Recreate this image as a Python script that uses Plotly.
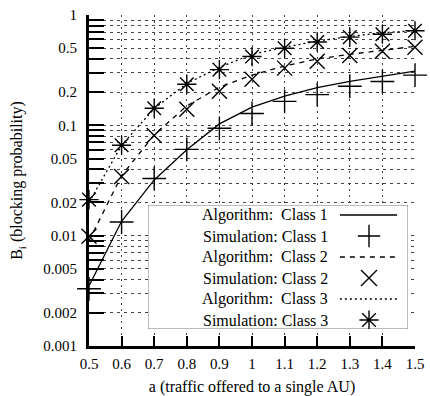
import plotly.graph_objects as go

# Offered traffic per AU
a = [0.5, 0.6, 0.7, 0.8, 0.9, 1.0, 1.1, 1.2, 1.3, 1.4, 1.5]

# Blocking probability: analytical algorithm
alg_c1 = [0.0035, 0.0135, 0.032, 0.06, 0.103, 0.146, 0.184, 0.22, 0.25, 0.28, 0.31]
alg_c2 = [0.009, 0.035, 0.082, 0.15, 0.222, 0.285, 0.345, 0.40, 0.44, 0.48, 0.52]
alg_c3 = [0.02, 0.066, 0.142, 0.24, 0.335, 0.44, 0.51, 0.58, 0.64, 0.69, 0.72]

# Blocking probability: simulation
sim_c1 = [0.0033, 0.0133, 0.033, 0.0605, 0.094, 0.128, 0.165, 0.19, 0.226, 0.25, 0.285]
sim_c2 = [0.0099, 0.0344, 0.081, 0.14, 0.204, 0.262, 0.33, 0.38, 0.43, 0.47, 0.51]
sim_c3 = [0.0212, 0.066, 0.143, 0.236, 0.32, 0.42, 0.50, 0.57, 0.63, 0.67, 0.72]

x_ticks = [0.5, 0.6, 0.7, 0.8, 0.9, 1.0, 1.1, 1.2, 1.3, 1.4, 1.5]
x_labels = ["0.5", "0.6", "0.7", "0.8", "0.9", "1", "1.1", "1.2", "1.3", "1.4", "1.5"]

labelled = {1: "", 2: "", 5: ""}
y_ticks, y_labels = [], []
for exp in (-3, -2, -1):
    for m in range(1, 10):
        v = m * 10 ** exp
        y_ticks.append(v)
        y_labels.append(f"{v:g}" if m in labelled else "")
y_ticks.append(1)
y_labels.append("1")

legend_rows = [
    ("Algorithm:  Class 1", "line", "solid", None),
    ("Simulation: Class 1", "marker", None, "cross-thin-open"),
    ("Algorithm:  Class 2", "line", "5px,5px", None),
    ("Simulation: Class 2", "marker", None, "x-thin-open"),
    ("Algorithm:  Class 3", "line", "2px,3px", None),
    ("Simulation: Class 3", "marker", None, "asterisk-open"),
]

FONT = "Liberation Serif, Times New Roman, serif"
INK = "black"

fig = go.Figure()

line_specs = [(alg_c1, "solid"), (alg_c2, "5px,5px"), (alg_c3, "2px,3px")]
for vals, dash in line_specs:
    fig.add_trace(go.Scatter(x=a, y=vals, mode="lines",
                             line=dict(color=INK, width=1.3, dash=dash),
                             showlegend=False, cliponaxis=False))

marker_specs = [(sim_c1, "cross-thin-open", 17), (sim_c2, "x-thin-open", 15),
                (sim_c3, "asterisk-open", 16)]
for vals, sym, size in marker_specs:
    fig.add_trace(go.Scatter(x=a, y=vals, mode="markers",
                             marker=dict(symbol=sym, size=size, color=INK,
                                         line=dict(color=INK, width=1.4)),
                             showlegend=False, cliponaxis=False))

# Key box drawn on its own small subplot
row_top, row_step = 1 - 10 / 124, 21 / 124
fig.add_trace(go.Scatter(x=[0, 1, 1, 0, 0], y=[0, 0, 1, 1, 0], mode="lines",
                         fill="toself", fillcolor="white",
                         line=dict(color="#777", width=1),
                         xaxis="x2", yaxis="y2", showlegend=False, hoverinfo="skip"))
annotations = []
for i, (txt, kind, dash, sym) in enumerate(legend_rows):
    yy = row_top - i * row_step
    annotations.append(dict(x=0.70, y=yy, xref="x2", yref="y2", text=txt,
                            showarrow=False, xanchor="right", yanchor="middle",
                            font=dict(family=FONT, size=16, color=INK)))
    if kind == "line":
        fig.add_trace(go.Scatter(x=[0.738, 0.958], y=[yy, yy], mode="lines",
                                 line=dict(color=INK, width=1.3, dash=dash),
                                 xaxis="x2", yaxis="y2", showlegend=False,
                                 hoverinfo="skip"))
    else:
        fig.add_trace(go.Scatter(x=[0.85], y=[yy], mode="markers",
                                 marker=dict(symbol=sym, size=16, color=INK,
                                             line=dict(color=INK, width=1.4)),
                                 xaxis="x2", yaxis="y2", showlegend=False,
                                 hoverinfo="skip"))

fig.update_layout(
    width=430, height=396,
    margin=dict(l=89, r=15, t=15, b=50),
    paper_bgcolor="white", plot_bgcolor="white",
    font=dict(family=FONT, size=15, color=INK),
    annotations=annotations,
    xaxis=dict(
        range=[0.5, 1.5], tickvals=x_ticks, ticktext=x_labels,
        ticks="inside", ticklen=10, tickwidth=1.5, tickcolor=INK,
        showline=True, linewidth=3, linecolor=INK, mirror=False,
        showgrid=True, gridcolor="#444", gridwidth=0.8, griddash="2px,4px",
        zeroline=False, ticklabelstandoff=2, automargin=False,
        title=dict(text="a (traffic offered to a single AU)", standoff=12,
                   font=dict(family=FONT, size=16)),
    ),
    yaxis=dict(
        type="log", range=[-3, 0], tickvals=y_ticks, ticktext=y_labels,
        ticks="inside", ticklen=15, tickwidth=1.5, tickcolor=INK,
        showline=True, linewidth=3, linecolor=INK, mirror=False,
        showgrid=True, gridcolor="#444", gridwidth=0.8, griddash="3px,4px",
        zeroline=False, ticklabelstandoff=6, automargin=False,
        title=dict(text="B<sub>i</sub> (blocking probability)", standoff=17,
                   font=dict(family=FONT, size=16)),
    ),
    xaxis2=dict(domain=[(148 - 89) / 326, (408 - 89) / 326], range=[0, 1],
                anchor="y2", visible=False, fixedrange=True),
    yaxis2=dict(domain=[(346 - 329) / 331, (346 - 205) / 331], range=[0, 1],
                anchor="x2", visible=False, fixedrange=True),
)

fig.write_html("out.html")
